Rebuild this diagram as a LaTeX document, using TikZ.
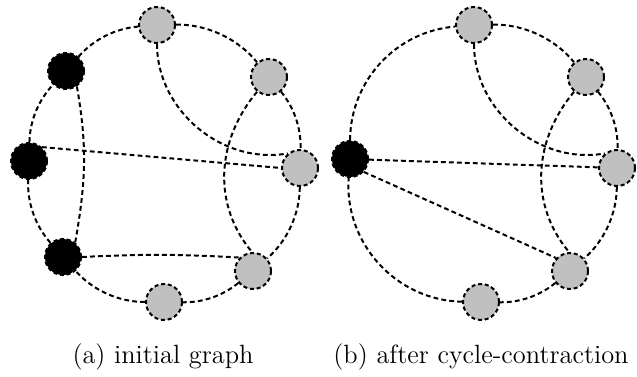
\documentclass[tikz,border=0pt]{standalone}
\definecolor{nodegray}{RGB}{192,192,192}
\begin{document}
\begin{tikzpicture}[x=0.5pt,y=0.5pt,
  vtx/.style={circle,minimum size=18pt,inner sep=0pt,line width=1pt,dash pattern=on 2pt off 1.4pt},
  gv/.style={vtx,draw=black,fill=nodegray},
  bv/.style={vtx,draw=black,fill=black},
  edgeln/.style={line width=1pt,dash pattern=on 2.4pt off 1.6pt},
  rimedge/.style={edgeln,looseness=0.88},
  captxt/.style={anchor=base,inner sep=0pt,font=\fontsize{13.2}{16}\selectfont}]
\useasboundingbox (0,0) rectangle (637,376);
% left graph
\node[gv] (T) at (157,351) {};
\node[gv] (UR) at (269,299) {};
\node[gv] (R) at (300,208) {};
\node[gv] (LR) at (253,105) {};
\node[gv] (B) at (164,74) {};
\node[bv] (LL) at (63,119) {};
\node[bv] (L) at (29,215) {};
\node[bv] (UL) at (66,305) {};
\draw[rimedge] (T) to[bend left=26] (UR);
\draw[rimedge] (UR) to[bend left=20.5] (R);
\draw[rimedge] (R) to[bend left=24] (LR);
\draw[rimedge] (LR) to[bend left=20] (B);
\draw[rimedge] (B) to[bend left=24] (LL);
\draw[rimedge] (LL) to[bend left=22] (L);
\draw[rimedge] (L) to[bend left=21] (UL);
\draw[rimedge] (UL) to[bend left=22] (T);
\draw[edgeln] (UL.-55) to[out=-80,in=80] (LL.50);
\draw[edgeln] (L.47) -- (R.180);
\draw[edgeln] (T.-90) to[out=-90,in=190] (R.130);
\draw[edgeln] (UR.-129) to[out=-130,in=130] (LR.93);
\draw[edgeln] (LL.0) to[bend left=3] (LR.135);
% right graph
\node[gv] (T2) at (474,351) {};
\node[gv] (UR2) at (586,299) {};
\node[gv] (R2) at (617,208) {};
\node[gv] (LR2) at (570,105) {};
\node[gv] (B2) at (481,74) {};
\node[bv] (K) at (350,217) {};
\draw[rimedge] (T2) to[bend left=26] (UR2);
\draw[rimedge] (UR2) to[bend left=20.5] (R2);
\draw[rimedge] (R2) to[bend left=24] (LR2);
\draw[rimedge] (LR2) to[bend left=20] (B2);
\draw[edgeln,looseness=1] (B2) to[bend left=46.5] (K);
\draw[edgeln,looseness=0.98] (K) to[bend left=42.5] (T2);
\draw[edgeln] (K) -- (R2);
\draw[edgeln] (K.-43) -- (LR2.137);
\draw[edgeln] (T2.-90) to[out=-90,in=190] (R2.130);
\draw[edgeln] (UR2.-129) to[out=-130,in=130] (LR2.93);
% captions
\node[captxt] (capa) at (163,13) {(a) initial graph};
\node[captxt] (capb) at (481,13) {(b) after cycle-contraction};
\end{tikzpicture}
\end{document}
